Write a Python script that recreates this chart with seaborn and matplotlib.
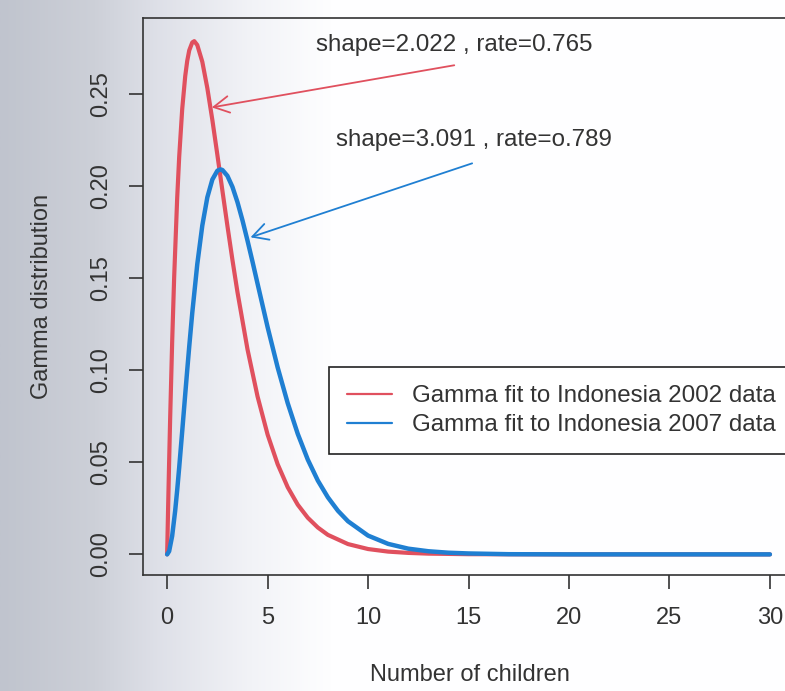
import numpy as np
import pandas as pd
import matplotlib
matplotlib.use('Agg')
import matplotlib.pyplot as plt
import seaborn as sns

# Values
x_2002 = [0, 0.05, 0.1, 0.15, 0.25, 0.35, 0.5, 0.6, 0.75, 0.9, 1, 1.1, 1.25, 1.35, 1.5,
          1.75, 2, 2.25, 2.5, 2.75, 3, 3.25, 3.5, 4, 4.5, 5, 5.5, 6, 6.5, 7, 7.5, 8, 9, 10,
          11, 12, 13, 15, 20, 25, 30]
y_2002 = [0.0, 0.0260, 0.0508, 0.0739, 0.1154, 0.1508, 0.1936, 0.2161, 0.2420, 0.2599,
          0.2682, 0.2739, 0.2782, 0.2789, 0.2768, 0.2677, 0.2534, 0.2361, 0.2171, 0.1977,
          0.1785, 0.1600, 0.1425, 0.1114, 0.0858, 0.0651, 0.0490, 0.0365, 0.0270, 0.0199,
          0.0146, 0.0106, 0.0056, 0.0029, 0.0015, 0.0008, 0.0004, 0.0001, 0.0, 0.0, 0.0]

x_2007 = [0, 0.1, 0.25, 0.4, 0.5, 0.6, 0.75, 0.9, 1, 1.1, 1.25, 1.5, 1.75, 2, 2.25, 2.5,
          2.65, 2.75, 3, 3.25, 3.5, 3.75, 4, 4.25, 4.5, 5, 5.5, 6, 6.5, 7, 7.5, 8, 8.5, 9,
          10, 11, 12, 13, 14, 15, 17, 20, 25, 30]
y_2007 = [0.0, 0.0017, 0.0100, 0.0237, 0.0349, 0.0472, 0.0669, 0.0870, 0.1002, 0.1130,
          0.1312, 0.1577, 0.1787, 0.1940, 0.2037, 0.2085, 0.2092, 0.2089, 0.2057, 0.1997,
          0.1914, 0.1815, 0.1705, 0.1590, 0.1471, 0.1235, 0.1016, 0.0822, 0.0655, 0.0515,
          0.0401, 0.0310, 0.0237, 0.0180, 0.0102, 0.0057, 0.0031, 0.0017, 0.0009, 0.0005,
          0.0001, 0.0, 0.0, 0.0]

labels = ['Gamma fit to Indonesia 2002 data', 'Gamma fit to Indonesia 2007 data']
notes = ['shape=2.022 , rate=0.765', 'shape=3.091 , rate=o.789']

x_ticks = [0, 5, 10, 15, 20, 25, 30]
y_ticks = [0.00, 0.05, 0.10, 0.15, 0.20, 0.25]

RED = '#E0505E'
BLUE = '#1F7FD2'
INK = '#333333'


# Greyish shading of the scan on the left side
def draw_background(fig):
    bg = fig.add_axes([0, 0, 1, 1], zorder=-10)
    cols = np.linspace(0, 1, 400)
    stops = [0.0, 0.12, 0.2, 0.32, 0.42, 1.0]
    r = np.interp(cols, stops, [192, 205, 222, 242, 254, 255])
    g = np.interp(cols, stops, [196, 208, 224, 243, 254, 255])
    b = np.interp(cols, stops, [206, 216, 232, 247, 255, 255])
    img = np.stack([r, g, b], axis=-1)[None, :, :] / 255.0
    bg.imshow(img, aspect='auto', extent=[0, 1, 0, 1])
    bg.axis('off')


def main():
    sns.set_style('white')
    plt.rcParams['font.family'] = ['Liberation Sans', 'DejaVu Sans']

    fig = plt.figure(figsize=(7.85, 6.91), dpi=100)
    draw_background(fig)

    ax = fig.add_axes([0.1822, 0.1679, 0.8293, 0.8061])
    ax.set_facecolor('none')

    df02 = pd.DataFrame({'x': x_2002, 'y': y_2002})
    df07 = pd.DataFrame({'x': x_2007, 'y': y_2007})
    sns.lineplot(data=df02, x='x', y='y', color=RED, linewidth=3.0, label=labels[0],
                 solid_joinstyle='round', ax=ax)
    sns.lineplot(data=df07, x='x', y='y', color=BLUE, linewidth=3.2, label=labels[1],
                 solid_joinstyle='round', ax=ax)

    ax.set_xlim(-1.2, 31.2)
    ax.set_ylim(-0.0112, 0.2915)
    ax.set_xticks(x_ticks)
    ax.set_yticks(y_ticks)
    ax.set_yticklabels([f'{v:.2f}' for v in y_ticks], rotation=90, va='center')
    ax.set_xticklabels([str(v) for v in x_ticks])
    ax.tick_params(axis='both', direction='out', length=10, width=1.2, colors=INK,
                   labelsize=17, labelcolor=INK)
    ax.tick_params(axis='y', pad=12, left=True)
    ax.tick_params(axis='x', pad=13, bottom=True)
    for sp in ax.spines.values():
        sp.set_color('#333333')
        sp.set_linewidth(1.2)

    ax.set_xlabel('Number of children', fontsize=17, color=INK)
    ax.set_ylabel('Gamma distribution', fontsize=17, color=INK)
    ax.xaxis.set_label_coords(0.502, -0.1795)
    ax.xaxis.label.set_va('center')
    ax.yaxis.set_label_coords(-0.155, 0.5)
    ax.yaxis.label.set_va('center')

    # annotations with arrows, as in the R figure
    ax.text(7.41, 0.2766, notes[0], fontsize=17.4, color=INK, ha='left', va='center')
    ax.text(8.40, 0.225, notes[1], fontsize=17.4, color=INK, ha='left', va='center')
    arrow = '->, head_length=0.65, head_width=0.35'
    ax.annotate('', xy=(2.22, 0.2429), xytext=(14.29, 0.2658),
                arrowprops=dict(arrowstyle=arrow, color=RED, lw=1.3, shrinkA=0, shrinkB=0,
                                mutation_scale=17))
    ax.annotate('', xy=(4.15, 0.1723), xytext=(15.18, 0.2125),
                arrowprops=dict(arrowstyle=arrow, color=BLUE, lw=1.3, shrinkA=0, shrinkB=0,
                                mutation_scale=17))

    leg = ax.legend(loc='upper left', bbox_to_anchor=(0.2857, 0.3734), fontsize=17.4,
                    frameon=True, fancybox=False, borderpad=0.75, labelspacing=0.3,
                    handlelength=1.85, handletextpad=0.85, borderaxespad=0)
    leg.get_frame().set_edgecolor('#222222')
    leg.get_frame().set_linewidth(1.2)
    leg.get_frame().set_facecolor('white')
    leg.get_frame().set_alpha(1)
    for t in leg.get_texts():
        t.set_color(INK)
    for h in leg.get_lines():
        h.set_linewidth(1.6)

    fig.savefig('out.png', dpi=100)


if __name__ == "__main__":
    main()
